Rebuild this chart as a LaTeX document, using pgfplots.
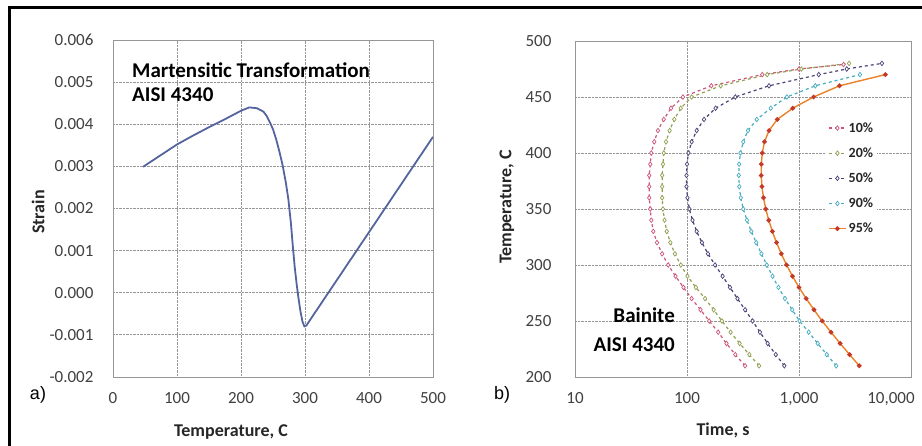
\documentclass[border=0pt]{standalone}
\usepackage{fontspec}
\setmainfont{Carlito}
\newfontfamily\arialfont{Liberation Sans}
\usepackage{pgfplots}
\pgfplotsset{compat=1.18}

\definecolor{tickc}{RGB}{64,64,64}
\definecolor{labc}{RGB}{38,38,38}
\definecolor{framec}{RGB}{150,150,150}
\definecolor{gridc}{RGB}{150,150,150}
\definecolor{strainc}{RGB}{84,100,158}
\definecolor{c10}{RGB}{205,85,120}
\definecolor{c20}{RGB}{145,160,80}
\definecolor{c50}{RGB}{75,68,118}
\definecolor{c90}{RGB}{70,172,192}
\definecolor{c95}{RGB}{236,130,40}
\definecolor{c95m}{RGB}{196,58,40}

\pgfplotsset{
  excel/.style={
    scale only axis,
    anchor=south west,
    axis line style={framec, line width=0.9pt},
    grid=major,
    grid style={densely dotted, gridc, line width=0.9pt},
    major tick length=0pt,
    tick label style={font=\fontsize{17}{18}\selectfont, text=tickc},
    yticklabel style={anchor=east, xshift=-12pt},
    xticklabel style={anchor=north, yshift=-12pt},
  },
  ttt/.style={dashed, line width=1.2pt, mark=diamond*, mark size=2.3pt,
    mark options={solid, fill=white, line width=0.7pt}},
}

\begin{document}
\begin{tikzpicture}
\path[use as bounding box] (0pt,0pt) rectangle (922pt,446pt);
\draw[line width=3pt] (9.5pt,0pt) -- (9.5pt,438pt) -- (922pt,438pt);

% (a) dilatometric strain during cooling
\begin{axis}[excel, at={(113pt,69pt)}, width=320pt, height=337pt,
  xmin=0, xmax=500, ymin=-0.002, ymax=0.006,
  scaled y ticks=false,
  xtick={0,100,200,300,400,500},
  xticklabels={0,100,200,300,400,500},
  ytick={-0.002,-0.001,0,0.001,0.002,0.003,0.004,0.005,0.006},
  yticklabels={-0.002,-0.001,0.000,0.001,0.002,0.003,0.004,0.005,0.006},
  yticklabel style={xshift=-4pt},
]
\addplot[strainc, line width=1.8pt, line join=round] table {
47 0.00299
75 0.00327
100 0.00352
125 0.00373
150 0.00393
175 0.00412
200 0.00432
213 0.00440
225 0.00438
235 0.00430
240 0.00420
245 0.00405
250 0.00388
255 0.00364
260 0.00335
265 0.00303
270 0.00262
274 0.00222
278 0.00165
281 0.00110
284 0.00060
287 0.00020
290 -0.00015
293 -0.00045
296 -0.00068
299 -0.00080
302 -0.00078
500 0.00370
};
\end{axis}

% (b) bainite TTT curves
\begin{axis}[excel, at={(575pt,69pt)}, width=336pt, height=336pt,
  xmode=log, xmin=10, xmax=10000, ymin=200, ymax=500,
  xminorticks=false,
  xtick={10,100,1000},
  xticklabels={10,100,{1,000}},
  extra x ticks={10000},
  extra x tick labels={\mbox{10,000}},
  extra x tick style={xticklabel style={xshift=-20pt}},
  ytick={200,250,300,350,400,450,500},
  yticklabels={200,250,300,350,400,450,500},
  yticklabel style={xshift=-8pt},
  legend cell align=left,
  legend style={at={(0.747,0.77)}, anchor=north west, draw=none, fill=white,
    font=\fontsize{14}{15}\selectfont\bfseries, text=labc, row sep=10pt, inner sep=2pt},
]
\addplot[ttt, c10] table {
330 210
270 220
225 230
190 240
158 250
132 260
110 270
93 280
79 290
68 300
60 310
54 320
50 330
48 340
47 350
46 360
46 370
46 380
47 390
48 400
51 410
55 420
62 430
72 440
92 450
165 460
470 470
1000 475
2500 479
};
\addlegendentry{10\%}
\addplot[ttt, c20] table {
440 210
360 220
295 230
245 240
205 250
173 260
145 270
120 280
101 290
88 300
78 310
71 320
66 330
63 340
61 350
60 360
60 370
60 380
61 390
62 400
65 410
70 420
77 430
88 440
110 450
200 460
520 470
1050 475
2800 480
};
\addlegendentry{20\%}
\addplot[ttt, c50] table {
740 210
620 220
525 230
448 240
385 250
330 260
282 270
242 280
208 290
178 300
154 310
136 320
122 330
112 340
105 350
101 360
99 370
99 380
100 390
103 400
110 410
122 420
142 430
180 440
270 450
540 460
1500 470
2670 475
5500 480
};
\addlegendentry{50\%}
\addplot[ttt, c90] table {
2150 210
1770 220
1470 230
1220 240
1010 250
870 260
750 270
655 280
580 290
515 300
462 310
415 320
375 330
343 340
318 350
302 360
293 370
290 380
292 390
300 400
318 410
350 420
420 430
560 440
780 450
1400 460
3500 470
};
\addlegendentry{90\%}
\addplot[c95, line width=1.4pt, mark=*, mark size=1.6pt,
  mark options={fill=c95m, draw=c95m}] table {
3450 210
2830 220
2330 230
1930 240
1610 250
1360 260
1160 270
1000 280
875 290
775 300
695 310
630 320
578 330
537 340
505 350
482 360
467 370
460 380
461 390
470 400
492 410
540 420
640 430
880 440
1350 450
2300 460
5900 470
};
\addlegendentry{95\%}
\end{axis}

% panel tags and axis titles
\node[font=\arialfont\fontsize{18}{18}\selectfont] at (38pt,51pt) {a)};
\node[font=\arialfont\fontsize{18}{18}\selectfont] at (502pt,51pt) {b)};
\node[font=\bfseries\fontsize{18}{18}\selectfont, text=labc] at (231pt,14pt) {Temperature, C};
\node[font=\bfseries\fontsize{18}{18}\selectfont, text=labc] at (723pt,16pt) {Time, s};
\node[font=\bfseries\fontsize{18}{18}\selectfont, text=labc, rotate=90] at (38pt,234pt) {Strain};
\node[font=\bfseries\fontsize{18}{18}\selectfont, text=labc, rotate=90] at (507pt,239pt) {Temperature, C};

% annotations inside the plots
\node[font=\bfseries\fontsize{21}{24}\selectfont, anchor=west, align=left, inner sep=0pt]
  at (132pt,364pt) {Martensitic Transformation\\AISI 4340};
\node[font=\bfseries\fontsize{21}{29}\selectfont, anchor=east, align=right, inner sep=0pt]
  at (675pt,116pt) {Bainite\\AISI 4340};
\end{tikzpicture}
\end{document}
